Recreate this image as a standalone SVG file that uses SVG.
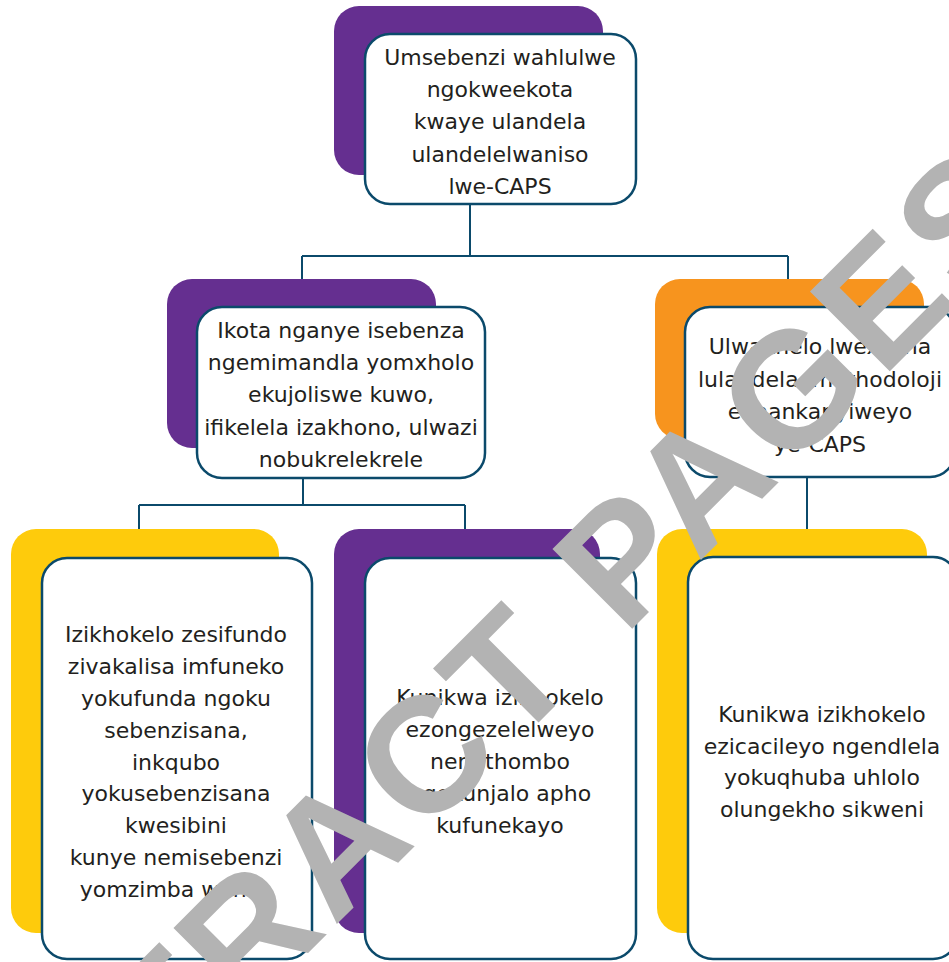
<svg xmlns="http://www.w3.org/2000/svg" width="949" height="962" viewBox="0 0 949 962">
<style>
.bp{fill:#652f90}
.bo{fill:#f7941e}
.by{fill:#fecb0c}
.f{fill:#fff;stroke:#0b4a6b;stroke-width:2.5}
.t{font-family:"DejaVu Sans",sans-serif;font-size:22px;fill:#231f20;text-anchor:middle}
.c{stroke:#0b4a6b;stroke-width:2;fill:none}
.wm{font-family:"Liberation Sans",Arial,sans-serif;font-weight:bold;font-size:164px;letter-spacing:7px;fill:#b3b3b3}
</style>
<rect width="949" height="962" fill="#fff"/>
<g id="connectors">
<path class="c" d="M470,204 V256 M302,256 H788 M302,256 V280 M788,256 V280"/>
<path class="c" d="M303,478 V505 M139,505 H465 M139,505 V530 M465,505 V530"/>
<path class="c" d="M807,477 V530"/>
</g>
<g id="n1">
<rect class="bp" x="334" y="6" width="269" height="169" rx="25"/>
<rect class="f" x="365" y="34" width="271" height="170" rx="25"/>
<text class="t"><tspan x="500" y="65">Umsebenzi wahlulwe</tspan><tspan x="500" y="97">ngokweekota</tspan><tspan x="500" y="129">kwaye ulandela</tspan><tspan x="500" y="162">ulandelelwaniso</tspan><tspan x="500" y="194">lwe-CAPS</tspan></text>
</g>
<g id="n2">
<rect class="bp" x="167" y="279" width="269" height="169" rx="25"/>
<rect class="f" x="197" y="307" width="288" height="171" rx="25"/>
<text class="t"><tspan x="341" y="338">Ikota nganye isebenza</tspan><tspan x="341" y="370">ngemimandla yomxholo</tspan><tspan x="341" y="402">ekujoliswe kuwo,</tspan><tspan x="341" y="435">ifikelela izakhono, ulwazi</tspan><tspan x="341" y="467">nobukrelekrele</tspan></text>
</g>
<g id="n3">
<rect class="bo" x="655" y="279" width="269" height="160" rx="25"/>
<rect class="f" x="685" y="307" width="270" height="170" rx="25"/>
<text class="t"><tspan x="820" y="354">Ulwakhelo lwexesha</tspan><tspan x="820" y="387">lulandela imethodoloji</tspan><tspan x="820" y="419">ekhankanyiweyo</tspan><tspan x="820" y="452">ye-CAPS</tspan></text>
</g>
<g id="n4">
<rect class="by" x="11" y="529" width="268" height="404" rx="25"/>
<rect class="f" x="42" y="558" width="270" height="401" rx="25"/>
<text class="t"><tspan x="176" y="642">Izikhokelo zesifundo</tspan><tspan x="176" y="674">zivakalisa imfuneko</tspan><tspan x="176" y="706">yokufunda ngoku</tspan><tspan x="176" y="738">sebenzisana,</tspan><tspan x="176" y="770">inkqubo</tspan><tspan x="176" y="801">yokusebenzisana</tspan><tspan x="176" y="833">kwesibini</tspan><tspan x="176" y="865">kunye nemisebenzi</tspan><tspan x="176" y="897">yomzimba wonke</tspan></text>
</g>
<g id="n5">
<rect class="bp" x="334" y="529" width="266" height="404" rx="25"/>
<rect class="f" x="365" y="558" width="271" height="401" rx="25"/>
<text class="t"><tspan x="500" y="705">Kunikwa izikhokelo</tspan><tspan x="500" y="737">ezongezelelweyo</tspan><tspan x="500" y="769">nemithombo</tspan><tspan x="500" y="801">ngokunjalo apho</tspan><tspan x="500" y="833">kufunekayo</tspan></text>
</g>
<g id="n6">
<rect class="by" x="657" y="529" width="270" height="404" rx="25"/>
<rect class="f" x="688" y="557" width="270" height="402" rx="25"/>
<text class="t"><tspan x="822" y="722">Kunikwa izikhokelo</tspan><tspan x="822" y="754">ezicacileyo ngendlela</tspan><tspan x="822" y="785">yokuqhuba uhlolo</tspan><tspan x="822" y="817">olungekho sikweni</tspan></text>
</g>
<text class="wm" transform="translate(5,1256) rotate(-45)">EXTRACT PAGES</text>
</svg>
